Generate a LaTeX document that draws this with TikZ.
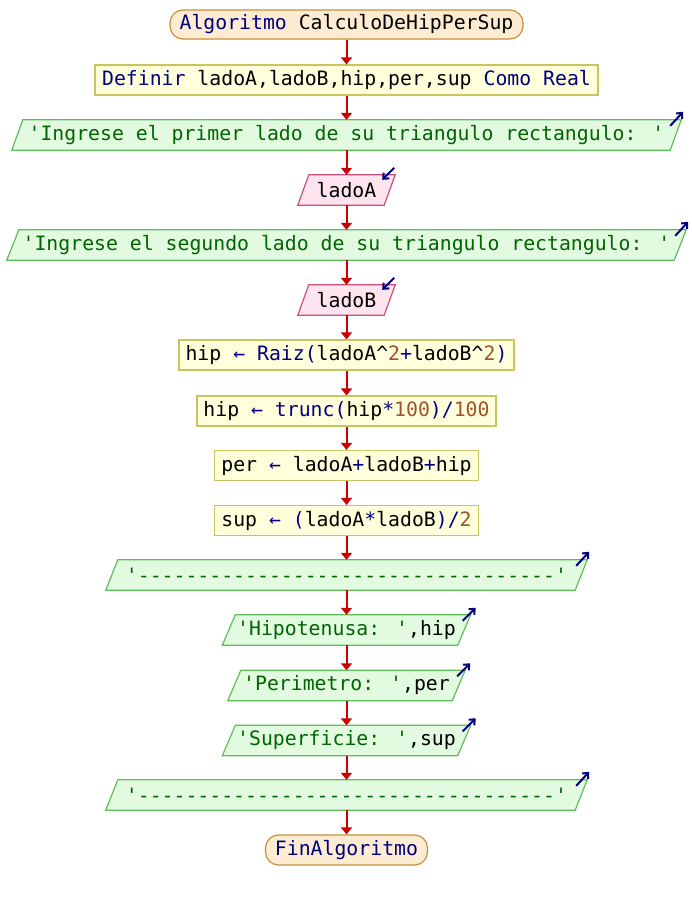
\documentclass[tikz,border=0pt]{standalone}
\usepackage{fontspec}
\newfontfamily\codefont{DejaVu Sans Mono}[Ligatures=TeXOff]
\usetikzlibrary{arrows.meta,backgrounds}

\definecolor{kwc}{HTML}{00007F}
\definecolor{strc}{HTML}{006400}
\definecolor{numc}{HTML}{A0522D}
\definecolor{flowc}{HTML}{CC0000}
\definecolor{termfill}{HTML}{FDECD2}
\definecolor{termdraw}{HTML}{C8913F}
\definecolor{procfill}{HTML}{FFFFDC}
\definecolor{procdraw}{HTML}{C8C460}
\definecolor{outfill}{HTML}{E2FBE0}
\definecolor{outdraw}{HTML}{5CBF5C}
\definecolor{infill}{HTML}{FDE4EE}
\definecolor{indraw}{HTML}{C8507F}

\newcommand\ckw[1]{\textcolor{kwc}{#1}}
\newcommand\cstr[1]{\textcolor{strc}{#1}}
\newcommand\cnum[1]{\textcolor{numc}{#1}}
\newcommand\dashline{'-----------------------------------'}

% parallelogram behind an io node: node, slant, style
\newcommand\iopara[3]{%
  \path[#3] (#1.south west) -- ([xshift=-#2pt]#1.south east)
    -- (#1.north east) -- ([xshift=#2pt]#1.north west) -- cycle;}

\begin{document}
\begin{tikzpicture}[x=1pt,y=-1pt,
  font=\codefont\fontsize{19.8pt}{22pt}\selectfont,
  base/.style={inner sep=0pt, minimum height=30pt},
  term/.style={base, minimum height=29pt, draw=termdraw, fill=termfill,
    rounded corners=13pt, line width=1.2pt},
  proc/.style={base, draw=procdraw, fill=procfill, line width=1.2pt},
  iobox/.style={base},
  outshape/.style={draw=outdraw, fill=outfill, line width=1.2pt},
  inshape/.style={draw=indraw, fill=infill, line width=1.2pt},
  flow/.style={draw=flowc, line width=2pt, -{Triangle[length=7pt,width=11pt]}},
  outmark/.style={draw=kwc, line width=2pt, -{Straight Barb[length=4.5pt,width=8pt]}},
  inmark/.style={outmark}]

\useasboundingbox (0,0) rectangle (692,900);

\node[term, minimum width=353pt] (start) at (346.5,24.5) {\ckw{Algoritmo} CalculoDeHipPerSup};
\node[proc, minimum width=503pt] (def) at (346.5,80) {\ckw{Definir} ladoA,ladoB,hip,per,sup \ckw{Como} \ckw{Real}};
\node[iobox, minimum width=669pt] (in1) at (346.5,135) {\cstr{'Ingrese el primer lado de su triangulo rectangulo: '}};
\node[iobox, minimum width=97pt] (rdA) at (346.5,190) {ladoA};
\node[iobox, minimum width=679pt] (in2) at (346.5,245) {\cstr{'Ingrese el segundo lado de su triangulo rectangulo: '}};
\node[iobox, minimum width=97pt] (rdB) at (346.5,300) {ladoB};
\node[proc, minimum width=335pt] (a1) at (346.5,355) {hip \ckw{←} \ckw{Raiz(}ladoA\textasciicircum\cnum{2}\ckw{+}ladoB\textasciicircum\cnum{2}\ckw{)}};
\node[proc, minimum width=299pt] (a2) at (346.5,411) {hip \ckw{←} \ckw{trunc(}hip\ckw{*}\cnum{100}\ckw{)/}\cnum{100}};
\node[proc, minimum width=264pt] (a3) at (346.5,465.5) {per \ckw{←} ladoA\ckw{+}ladoB\ckw{+}hip};
\node[proc, minimum width=264pt] (a4) at (346.5,520.5) {sup \ckw{←} \ckw{(}ladoA\ckw{*}ladoB\ckw{)/}\cnum{2}};
\node[iobox, minimum width=481pt] (o1) at (346.5,575) {\cstr{\dashline}};
\node[iobox, minimum width=248pt] (o2) at (346.5,630) {\cstr{'Hipotenusa: '},hip};
\node[iobox, minimum width=237pt] (o3) at (346.5,685.5) {\cstr{'Perimetro: '},per};
\node[iobox, minimum width=248pt] (o4) at (346.5,740.5) {\cstr{'Superficie: '},sup};
\node[iobox, minimum width=481pt] (o5) at (346.5,795) {\cstr{\dashline}};
\node[term, minimum width=162pt, minimum height=30pt] (end) at (346.5,850) {\ckw{FinAlgoritmo}};

% white page and io shapes behind their texts
\begin{scope}[on background layer]
  \fill[white] (0,0) rectangle (692,900);
  \iopara{in1}{11}{outshape}
  \iopara{rdA}{11}{inshape}
  \iopara{in2}{12}{outshape}
  \iopara{rdB}{11}{inshape}
  \iopara{o1}{12}{outshape}
  \iopara{o2}{13}{outshape}
  \iopara{o3}{13}{outshape}
  \iopara{o4}{13}{outshape}
  \iopara{o5}{12}{outshape}
\end{scope}

% output marks (up-right) and input marks (down-left)
\foreach \n in {in1,in2,o1,o5}
  \draw[outmark] ([shift={(-11,6)}]\n.north east) -- ([shift={(2,-8)}]\n.north east);
\foreach \n in {o2,o3,o4}
  \draw[outmark] ([shift={(-8,6)}]\n.north east) -- ([shift={(5,-7)}]\n.north east);
\foreach \n in {rdA,rdB}
  \draw[inmark] ([shift={(-1,-7)}]\n.north east) -- ([shift={(-13,5)}]\n.north east);

% flow
\draw[flow] (start) -- (def);
\draw[flow] (def) -- (in1);
\draw[flow] (in1) -- (rdA);
\draw[flow] (rdA) -- (in2);
\draw[flow] (in2) -- (rdB);
\draw[flow] (rdB) -- (a1);
\draw[flow] (a1) -- (a2);
\draw[flow] (a2) -- (a3);
\draw[flow] (a3) -- (a4);
\draw[flow] (a4) -- (o1);
\draw[flow] (o1) -- (o2);
\draw[flow] (o2) -- (o3);
\draw[flow] (o3) -- (o4);
\draw[flow] (o4) -- (o5);
\draw[flow] (o5) -- (end);
\end{tikzpicture}
\end{document}
